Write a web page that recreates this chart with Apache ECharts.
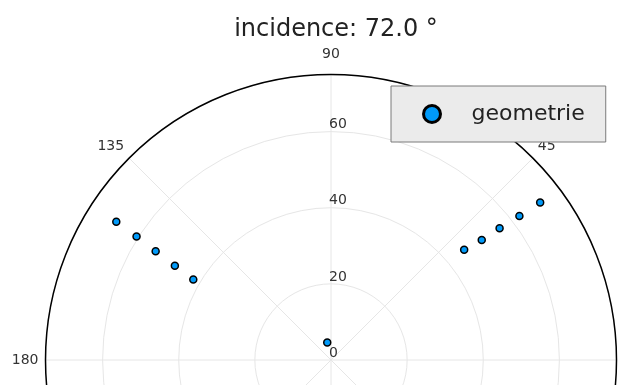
<!DOCTYPE html>
<html>
<head>
<meta charset="utf-8">
<script src="https://cdn.jsdelivr.net/npm/echarts@6/dist/echarts.min.js"></script>
<style>
  html, body { margin: 0; padding: 0; background: #fff; }
  #chart { width: 634px; height: 385px; }
</style>
</head>
<body>
<div id="chart"></div>
<script>
// Measured geometry: angle in degrees, radius in data units
const angles = [147.2, 147.6, 148.2, 148.9, 149.7, 39.6, 38.5, 38.0, 37.4, 37.0, 102.1];
const radii  = [67.1, 60.5, 54.2, 47.9, 41.9, 45.4, 50.6, 56.2, 62.3, 68.8, 4.7];
const radiusTicks = [0, 20, 40, 60];
const seriesName = 'geometrie';
const titleText = 'incidence: 72.0 °';

const FONT = 'DejaVu Sans';

// The angle axis starts at 90° (where the radius labels sit), so angles below 90 wrap by a turn.
const wrapAngle = a => (a < 90 ? a + 360 : a);
const points = angles.map((a, i) => [radii[i], wrapAngle(a)]);

const chart = echarts.init(document.getElementById('chart'), null, { renderer: 'canvas' });
chart.setOption({
  animation: false,
  backgroundColor: '#ffffff',
  title: {
    text: titleText,
    left: 331,
    top: 13,
    textAlign: 'center',
    textStyle: { fontFamily: FONT, fontSize: 24, fontWeight: 'normal', color: '#222' }
  },
  legend: {
    left: 391,
    top: 86,
    orient: 'vertical',
    padding: [17, 21, 17, 31],
    backgroundColor: '#ebebeb',
    borderColor: '#7a7a7a',
    borderWidth: 1,
    borderRadius: 0,
    itemWidth: 17,
    itemHeight: 17,
    icon: 'circle',
    itemStyle: { color: '#009af9', borderColor: '#000', borderWidth: 3 },
    textStyle: { fontFamily: FONT, fontSize: 22, color: '#222', padding: [0, 0, 0, 26] },
    data: [seriesName]
  },
  polar: {
    center: [331, 360],
    radius: 285.5
  },
  angleAxis: {
    type: 'value',
    min: 90,
    max: 450,
    interval: 45,
    startAngle: 90,
    clockwise: false,
    axisLine: { show: true, lineStyle: { color: '#000', width: 1.5 } },
    axisTick: { show: false },
    axisLabel: {
      margin: 7,
      fontFamily: FONT,
      fontSize: 14,
      color: '#333',
      formatter: v => {
        if (v === 90) return '{top|90}';
        if (v === 360) return '{right|0}';
        return String(v % 360);
      },
      rich: {
        top: { fontFamily: FONT, fontSize: 14, color: '#333', padding: [0, 0, 6, 0] },
        right: { fontFamily: FONT, fontSize: 14, color: '#333', padding: [0, 0, 0, 10] }
      }
    },
    splitLine: { show: true, lineStyle: { color: '#e6e6e6', width: 1 } }
  },
  radiusAxis: {
    type: 'value',
    min: 0,
    max: 75,
    interval: 20,
    axisLine: { show: false },
    axisTick: { show: false },
    axisLabel: {
      inside: true,
      margin: 2,
      align: 'left',
      verticalAlign: 'bottom',
      showMaxLabel: false,
      fontFamily: FONT,
      fontSize: 14,
      color: '#333',
      formatter: v => (radiusTicks.includes(v) ? String(v) : '')
    },
    splitLine: { show: true, lineStyle: { color: '#e6e6e6', width: 1 } }
  },
  series: [{
    name: seriesName,
    type: 'scatter',
    coordinateSystem: 'polar',
    symbol: 'circle',
    symbolSize: 7,
    itemStyle: { color: '#009af9', borderColor: '#000', borderWidth: 1.5, opacity: 1 },
    data: points
  }]
});
</script>
</body>
</html>
